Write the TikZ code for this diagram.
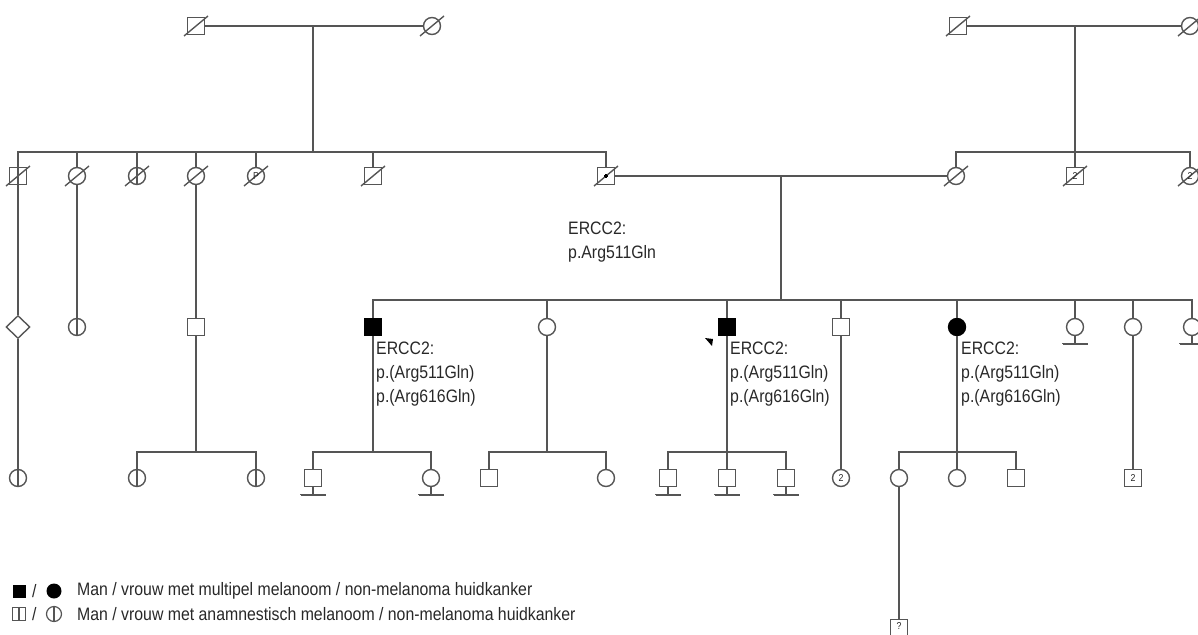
\documentclass[tikz,border=0pt]{standalone}
\usepackage{fontspec}
\setmainfont[FakeStretch=0.88]{Liberation Sans}
\usetikzlibrary{shapes.geometric}
\definecolor{lc}{RGB}{85,85,85}
\definecolor{tc}{RGB}{40,40,40}
\newcommand\dcs[1]{\draw[ln] ([shift={(-12,10)}]#1.center) -- ([shift={(12,-10)}]#1.center);}
\newcommand\anm[1]{\draw[ln] (#1.north) -- (#1.south);}
\newcommand\nob[2]{\draw[ln] (#1) -- ++(0,17) coordinate (#2); \draw[ln] ([xshift=-12.5pt]#2) -- ([xshift=12.5pt]#2);}
\begin{document}
\begin{tikzpicture}[x=1pt,y=-1pt,
  ln/.style={draw=lc, line width=1.4pt},
  sq/.style={rectangle, draw=lc, line width=1.4pt, minimum size=17pt, inner sep=0pt, fill=white},
  ci/.style={circle, draw=lc, line width=1.4pt, minimum size=17pt, inner sep=0pt, fill=white},
  aff/.style={fill=black, draw=black},
  dm/.style={diamond, draw=lc, line width=1.4pt, minimum width=24pt, minimum height=23pt, inner sep=0pt, fill=white},
  lbl/.style={font=\fontsize{18}{24}\selectfont, align=left, anchor=north west, inner sep=0pt, text=tc},
  num/.style={font=\fontsize{10}{10}\selectfont, text=tc},
  leg/.style={font=\fontsize{18}{24}\selectfont, anchor=west, inner sep=0pt, text=tc}]
\useasboundingbox (0,0) rectangle (1198,634);
\clip (0,0) rectangle (1198,634);
% ---------- Generation I
\node[sq] (g1a) at (196,26) {};
\node[ci] (g1b) at (432,26) {};
\node[sq] (g1c) at (958,26) {};
\node[ci] (g1d) at (1190,26) {};
\coordinate (m1) at (313,26); \coordinate (d1) at (313,152);
\coordinate (m2) at (1075,26); \coordinate (d2) at (1075,152);
% ---------- Generation II
\node[sq] (g2a) at (18,176) {};
\node[ci] (g2b) at (77,176) {};
\node[ci] (g2c) at (137,176) {};
\node[ci] (g2d) at (196,176) {};
\node[ci] (g2e) at (256,176) {};
\node[sq] (g2f) at (373,176) {};
\node[sq] (g2g) at (606,176) {};
\node[ci] (g2h) at (956,176) {};
\node[sq] (g2i) at (1075,176) {};
\node[ci] (g2j) at (1190,176) {};
\coordinate (m3) at (781,176); \coordinate (d3) at (781,300);
% ---------- Generation III
\node[dm] (g3l1) at (18,327) {};
\node[ci] (g3l2) at (77,327) {};
\node[sq] (g3l3) at (196,327) {};
\node[sq,aff] (g3a) at (373,327) {};
\node[ci] (g3b) at (547,327) {};
\node[sq,aff] (g3c) at (727,327) {};
\node[sq] (g3d) at (841,327) {};
\node[ci,aff] (g3e) at (957,327) {};
\node[ci] (g3f) at (1075,327) {};
\node[ci] (g3g) at (1133,327) {};
\node[ci] (g3h) at (1192,327) {};
\coordinate (d4) at (196,452); \coordinate (d5) at (373,452);
\coordinate (d6) at (547,452); \coordinate (d7) at (727,452);
\coordinate (d8) at (957,452);
% ---------- Generation IV
\node[ci] (g4a) at (18,478) {};
\node[ci] (g4b) at (137,478) {};
\node[ci] (g4c) at (256,478) {};
\node[sq] (g4d) at (313,478) {};
\node[ci] (g4e) at (431,478) {};
\node[sq] (g4f) at (489,478) {};
\node[ci] (g4g) at (606,478) {};
\node[sq] (g4h) at (668,478) {};
\node[sq] (g4i) at (727,478) {};
\node[sq] (g4j) at (786,478) {};
\node[ci] (g4k) at (841,478) {};
\node[ci] (g4l) at (899,478) {};
\node[ci] (g4m) at (957,478) {};
\node[sq] (g4n) at (1016,478) {};
\node[sq] (g4o) at (1133,478) {};
% ---------- Generation V
\node[sq] (g5a) at (899,628) {};
% ---------- connectors
\draw[ln] (g1a) -- (g1b);
\draw[ln] (m1) -- (d1);
\draw[ln] (g2a) |- (d1) -| (g2g);
\foreach \c in {g2b,g2c,g2d,g2e,g2f} \draw[ln] (d1 -| \c) -- (\c);
\draw[ln] (g1c) -- (g1d);
\draw[ln] (m2) -- (d2);
\draw[ln] (g2h) |- (d2) -| (g2j);
\draw[ln] (d2) -- (g2i);
\draw[ln] (g2g) -- (g2h);
\draw[ln] (m3) -- (d3);
\draw[ln] (g3a) |- (d3) -| (g3h);
\foreach \c in {g3b,g3c,g3d,g3e,g3f,g3g} \draw[ln] (d3 -| \c) -- (\c);
\draw[ln] (g2a) -- (g3l1);
\draw[ln] (g2b) -- (g3l2);
\draw[ln] (g2d) -- (g3l3);
\draw[ln] (g3l1) -- (g4a);
\draw[ln] (g3l3) -- (d4);
\draw[ln] (g4b) |- (d4) -| (g4c);
\draw[ln] (g3a) -- (d5);
\draw[ln] (g4d) |- (d5) -| (g4e);
\draw[ln] (g3b) -- (d6);
\draw[ln] (g4f) |- (d6) -| (g4g);
\draw[ln] (g3c) -- (d7);
\draw[ln] (g4h) |- (d7) -| (g4j);
\draw[ln] (d7) -- (g4i);
\draw[ln] (g3d) -- (g4k);
\draw[ln] (g3e) -- (d8);
\draw[ln] (g4l) |- (d8) -| (g4n);
\draw[ln] (d8) -- (g4m);
\draw[ln] (g3g) -- (g4o);
\draw[ln] (g4l) -- (g5a);
% ---------- marks
\foreach \c in {g1a,g1b,g1c,g1d,g2a,g2b,g2c,g2d,g2e,g2f,g2g,g2h,g2i,g2j} \dcs{\c}
\foreach \c in {g2a,g2c,g3l2,g4a,g4b,g4c} \anm{\c}
\nob{g3f}{b1} \nob{g3h}{b2} \nob{g4d}{b3} \nob{g4e}{b4}
\nob{g4h}{b5} \nob{g4i}{b6} \nob{g4j}{b7}
\fill[black] (g2g.center) circle (1.8pt);
\node[num] (n1) at (g2e) {P};
\node[num] (n2) at (g2i) {2};
\node[num] (n3) at (g2j) {2};
\node[num] (n4) at (g4k) {2};
\node[num] (n5) at (g4o) {2};
\node[num, anchor=north] (n6) at (g5a.north) {?};
\fill[black] (705,338) -- (713,339) -- (712,346) -- cycle;
% ---------- labels
\node[lbl] (t1) at (568,222) {ERCC2:\\p.Arg511Gln};
\node[lbl] (t2) at (376,342) {ERCC2:\\p.(Arg511Gln)\\p.(Arg616Gln)};
\node[lbl] (t3) at (730,342) {ERCC2:\\p.(Arg511Gln)\\p.(Arg616Gln)};
\node[lbl] (t4) at (961,342) {ERCC2:\\p.(Arg511Gln)\\p.(Arg616Gln)};
% ---------- legend
\node[rectangle, fill=black, minimum size=13pt, inner sep=0pt] (l1) at (19,591) {};
\node[leg] (l2) at (32,591) {/};
\node[circle, fill=black, minimum size=15pt, inner sep=0pt] (l3) at (54,591) {};
\node[leg] (l4) at (77,591) {Man / vrouw met multipel melanoom / non-melanoma huidkanker};
\node[rectangle, draw=lc, line width=1.2pt, minimum size=13pt, inner sep=0pt] (l5) at (19,614) {};
\draw[ln, line width=1.2pt] (l5.north) -- (l5.south);
\node[leg] (l6) at (32,614) {/};
\node[circle, draw=lc, line width=1.2pt, minimum size=15pt, inner sep=0pt] (l7) at (54,614) {};
\draw[ln, line width=1.2pt] (l7.north) -- (l7.south);
\node[leg] (l8) at (77,614) {Man / vrouw met anamnestisch melanoom / non-melanoma huidkanker};
\end{tikzpicture}
\end{document}
